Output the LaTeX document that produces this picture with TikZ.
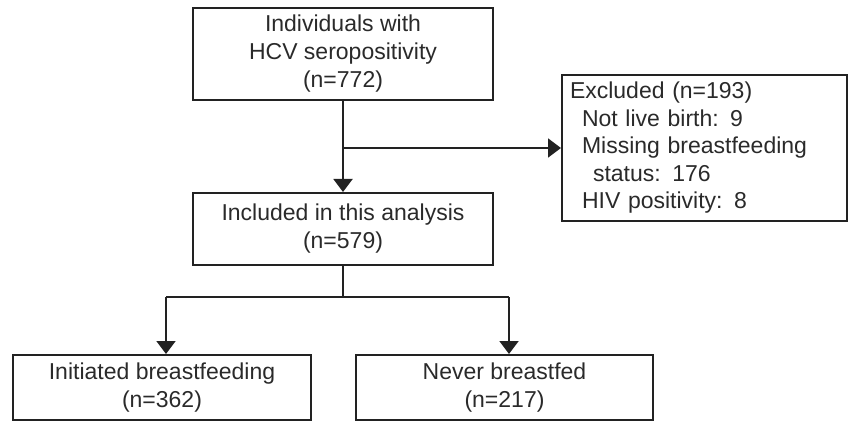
\documentclass[tikz,border=0pt]{standalone}
\usepackage{fontspec}
\setmainfont{Liberation Sans}
\usetikzlibrary{arrows.meta}
\definecolor{txt}{HTML}{2A2A2A}
\definecolor{ln}{HTML}{222222}
\begin{document}
\begin{tikzpicture}[x=1pt,y=-1pt,
  box/.style={draw=ln,line width=2pt,rectangle,inner sep=0pt,align=center,text=txt,
    font=\fontsize{23}{28}\selectfont},
  conn/.style={draw=ln,line width=2pt},
  arr/.style={conn,-{Triangle[length=13pt,width=19pt]}}]
\useasboundingbox (0,0) rectangle (848,422);
\node[box,minimum width=300pt,minimum height=92pt] (top) at (343,54) {Individuals with\\HCV seropositivity\\(n=772)};
\node[box,minimum width=300pt,minimum height=72pt] (mid) at (343,229) {Included in this analysis\\(n=579)};
\node[box,minimum width=285pt,minimum height=146pt,text width=269pt,align=left,inner xsep=8pt,
  font=\fontsize{23}{27.5}\selectfont] (excl) at (704.5,148)
  {Excluded (n=193)\\
   \hspace*{12pt}Not live birth: 9\\
   \hspace*{12pt}Missing breastfeeding\\
   \hspace*{23pt}status: 176\\
   \hspace*{12pt}HIV positivity: 8};
\node[box,minimum width=298pt,minimum height=65pt] (left) at (162,387.5) {Initiated breastfeeding\\(n=362)};
\node[box,minimum width=297pt,minimum height=65pt] (right) at (504.5,387.5) {Never breastfed\\(n=217)};
\coordinate (br) at (top.south |- excl.west);
\coordinate (split) at (343,297);
\coordinate (lt) at (166,297);
\coordinate (rt) at (509,297);
\draw[arr] (top.south) -- (mid.north);
\draw[arr] (br) -- (excl.west);
\draw[conn] (mid.south) -- (split);
\draw[conn] (lt) -- (rt);
\draw[arr] (lt) -- (lt |- left.north);
\draw[arr] (rt) -- (rt |- right.north);
\end{tikzpicture}
\end{document}
